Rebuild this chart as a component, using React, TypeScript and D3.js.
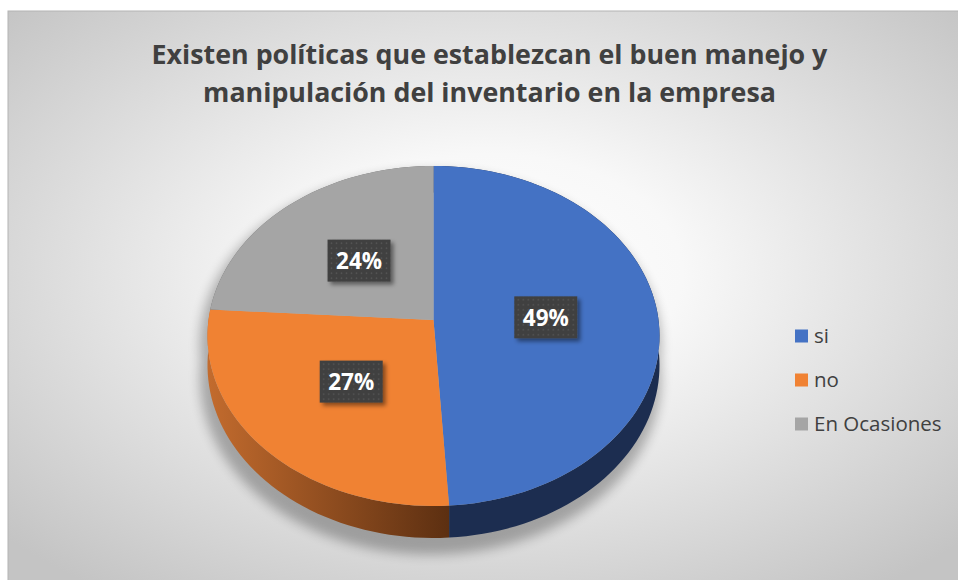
import { useMemo } from 'react';
import * as d3 from 'd3';

const categories = ['si', 'no', 'En Ocasiones'];
const values = [49, 27, 24];
const labels = ['49%', '27%', '24%'];
const topColors = ['#4472C4', '#F08233', '#A5A5A5'];
const sideColors = ['#1c2d50', 'url(#orangeSide)', '#6b6b6b'];

const W = 958;
const H = 580;
// pie projection (tilted disc seen in perspective)
const CX = 433.5;
const CY = 320;
const RX = 225;
const RY = 168.5;
const PERSP = 0.094;
const DEPTH = 29;

function proj(theta: number, f = 1, depth = 0): [number, number] {
  const u = f * Math.sin(theta);
  const v = -f * Math.cos(theta);
  const k = 1 / (1 - PERSP * v);
  return [CX + RX * u * k, CY + RY * v * k + depth * k];
}

function arcPoints(a0: number, a1: number, f = 1, depth = 0) {
  const n = Math.max(2, Math.ceil(((a1 - a0) / (Math.PI * 2)) * 180));
  return d3.range(n + 1).map((i) => proj(a0 + ((a1 - a0) * i) / n, f, depth));
}

const line = d3.line<[number, number]>().curve(d3.curveLinear);

export default function App() {
  const slices = useMemo(() => {
    const pie = d3.pie<number>().sort(null).startAngle(0).endAngle(Math.PI * 2)(values);
    return pie.map((p, i) => {
      const top = [[CX, CY] as [number, number], ...arcPoints(p.startAngle, p.endAngle)];
      const side = [
        ...arcPoints(p.startAngle, p.endAngle),
        ...arcPoints(p.startAngle, p.endAngle, 1, DEPTH).reverse(),
      ];
      const mid = (p.startAngle + p.endAngle) / 2;
      return {
        top: line(top) + 'Z',
        side: line(side) + 'Z',
        label: proj(mid, 0.5),
        i,
      };
    });
  }, []);

  const full = arcPoints(0, Math.PI * 2, 1.02);
  const fullBottom = arcPoints(0, Math.PI * 2, 1.02, DEPTH + 4);

  const legendY = d3.scalePoint<string>().domain(categories).range([336, 424]);

  return (
    <svg
      width={W}
      height={H}
      style={{ position: 'fixed', left: 0, top: 0 }}
      fontFamily="'Open Sans', 'Noto Sans', sans-serif"
    >
      <defs>
        <radialGradient id="bg" cx="50%" cy="45%" r="68%">
          <stop offset="0" stopColor="#ffffff" />
          <stop offset="0.3" stopColor="#f8f8f8" />
          <stop offset="1" stopColor="#c4c4c4" />
        </radialGradient>
        <linearGradient id="orangeSide" gradientUnits="userSpaceOnUse" x1={205} y1={0} x2={450} y2={0}>
          <stop offset="0" stopColor="#c46c2e" />
          <stop offset="1" stopColor="#5c2f11" />
        </linearGradient>
        <pattern id="dots" width={5} height={5} patternUnits="userSpaceOnUse">
          <rect width={5} height={5} fill="#404040" />
          <circle cx={2.5} cy={2.5} r={0.8} fill="#5c5c5c" />
        </pattern>
        <filter id="pieShadow" x="-20%" y="-20%" width="140%" height="140%">
          <feGaussianBlur stdDeviation={6} />
        </filter>
        <filter id="boxShadow" x="-30%" y="-30%" width="160%" height="160%">
          <feDropShadow dx={3} dy={3} stdDeviation={2} floodColor="#000" floodOpacity={0.45} />
        </filter>
      </defs>

      <rect x={0} y={0} width={W} height={H} fill="#ffffff" />
      <rect x={8} y={11} width={W} height={H} fill="url(#bg)" stroke="#b4b4b4" strokeWidth={1} />

      {/* Title */}
      <g fill="#404040" fontWeight={700} fontSize={26.8} textAnchor="middle">
        <text x={489.5} y={64}>Existen políticas que establezcan el buen manejo y</text>
        <text x={489.5} y={102}>manipulación del inventario en la empresa</text>
      </g>

      {/* Shadow under the pie */}
      <g filter="url(#pieShadow)" fill="#000" opacity={0.28} transform="translate(-3,8)">
        <path d={line(full) + 'Z'} />
        <path d={line(fullBottom) + 'Z'} />
      </g>

      {/* Sides */}
      {slices.map((s) => (
        <path key={'side' + s.i} d={s.side} fill={sideColors[s.i]} />
      ))}
      {/* Top faces */}
      {slices.map((s) => (
        <path key={'top' + s.i} d={s.top} fill={topColors[s.i]} />
      ))}

      {/* Data labels */}
      {slices.map((s) => (
        <g key={'lab' + s.i} transform={`translate(${s.label[0]},${s.label[1]})`}>
          <rect x={-31.5} y={-21} width={63} height={42} fill="url(#dots)" filter="url(#boxShadow)" />
          <text
            x={0}
            y={8.5}
            textAnchor="middle"
            fill="#ffffff"
            fontWeight={700}
            fontSize={22.5}
          >
            {labels[s.i]}
          </text>
        </g>
      ))}

      {/* Legend */}
      {categories.map((c, i) => (
        <g key={c} transform={`translate(795,${legendY(c)})`}>
          <rect x={0} y={-6.5} width={13} height={13} fill={topColors[i]} />
          <text x={19} y={7} fontSize={20.5} fill="#404040">
            {c}
          </text>
        </g>
      ))}
    </svg>
  );
}
